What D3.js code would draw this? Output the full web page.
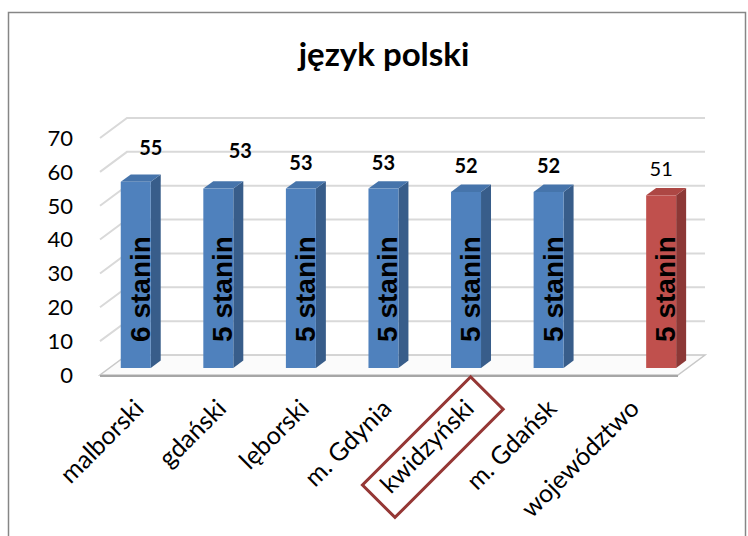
<!DOCTYPE html>
<html>
<head>
<meta charset="utf-8">
<script src="https://cdn.jsdelivr.net/npm/d3@7"></script>
<style>
  body { margin: 0; background: #fff; }
  svg { display: block; }
</style>
</head>
<body>
<div id="chart"></div>
<script>
// chart data
const categories = ["malborski", "gdański", "lęborski", "m. Gdynia", "kwidzyński", "m. Gdańsk", "województwo"];
const series = ["powiat", "województwo"];
const values = [55, 53, 53, 53, 52, 52, 51];
const seriesOf = ["powiat", "powiat", "powiat", "powiat", "powiat", "powiat", "województwo"];
const staninLabels = ["6 stanin", "5 stanin", "5 stanin", "5 stanin", "5 stanin", "5 stanin", "5 stanin"];
const yTicks = [0, 10, 20, 30, 40, 50, 60, 70];
const highlighted = "kwidzyński";

// label nudges (the first two value labels were moved by hand in the original)
const labelNudge = [[15, -8], [22, -12], [0, 0], [0, 0], [0, 0], [0, 0], [0, 0]];

const width = 748, height = 536;
const font = "Lato, 'Open Sans', sans-serif";

const svg = d3.select("#chart").append("svg")
    .attr("width", width)
    .attr("height", height);

// outer frame
svg.append("path")
    .attr("d", "M8.5,540V12.5H745.5V540")
    .attr("fill", "none")
    .attr("stroke", "#868686")
    .attr("stroke-width", 1.5);

svg.append("text")
    .attr("x", 384)
    .attr("y", 66)
    .attr("text-anchor", "middle")
    .style("font", `bold 33px ${font}`)
    .text("język polski");

// front plane geometry and depth (3d offset)
const x0 = 100, x1 = 678;
const depth = { dx: 27, dy: -20 };

const x = d3.scaleBand().domain(categories).range([x0, x1]).padding(0);
const xs = d3.scaleBand().domain(series).range([0, x.bandwidth()]).paddingInner(0).paddingOuter(0.377);
const y = d3.scaleLinear().domain([0, 70]).range([375, 138]);

const off = t => [depth.dx * t, depth.dy * t];

// floor
const [fdx, fdy] = off(1);
svg.append("path")
    .attr("d", `M${x0},${y(0)}L${x1},${y(0)}L${x1 + fdx},${y(0) + fdy}L${x0 + fdx},${y(0) + fdy}Z`)
    .attr("fill", "#fbfbfb")
    .attr("stroke", "#c8c8c8")
    .attr("stroke-width", 1.5);
svg.append("line")
    .attr("x1", x0).attr("x2", x1)
    .attr("y1", y(0) + 1).attr("y2", y(0) + 1)
    .attr("stroke", "#a6a6a6")
    .attr("stroke-width", 2);

// gridlines: left wall diagonal + back wall horizontal
const grid = svg.append("g");
grid.selectAll("path")
    .data(yTicks.slice(1))
    .join("path")
    .attr("d", d => `M${x0},${y(d)}L${x0 + fdx},${y(d) + fdy}L${x1 + fdx},${y(d) + fdy}`)
    .attr("fill", "none")
    .attr("stroke", "#d9d9d9")
    .attr("stroke-width", 2);

// y axis labels
svg.append("g")
    .selectAll("text")
    .data(yTicks)
    .join("text")
    .attr("x", 73)
    .attr("y", d => y(d))
    .attr("dy", "0.36em")
    .attr("text-anchor", "end")
    .style("font", `22px ${font}`)
    .text(d => d);

// bars
const colors = {
    powiat: { front: "#4f81bd", side: "#385d8a", top: "#4674ab" },
    "województwo": { front: "#c0504d", side: "#8c3836", top: "#ad4744" }
};
const tFront = 0.35, tBack = 0.72;
const [bfx, bfy] = off(tFront);
const [bbx, bby] = off(tBack);
const bw = xs.bandwidth();

const bars = svg.append("g")
    .selectAll("g")
    .data(categories.map((c, i) => ({ c, i, v: values[i], s: seriesOf[i] })))
    .join("g");

bars.each(function (d) {
    const g = d3.select(this);
    const left = x(d.c) + xs(d.s) + bfx;
    const right = left + bw;
    const top = y(d.v) + bfy;
    const bottom = y(0) + bfy;
    const ddx = bbx - bfx, ddy = bby - bfy;
    const col = colors[d.s];
    g.append("path")
        .attr("d", `M${right},${top}L${right + ddx},${top + ddy}L${right + ddx},${bottom + ddy}L${right},${bottom}Z`)
        .attr("fill", col.side);
    g.append("path")
        .attr("d", `M${left},${top}L${left + ddx},${top + ddy}L${right + ddx},${top + ddy}L${right},${top}Z`)
        .attr("fill", col.top);
    g.append("rect")
        .attr("x", left)
        .attr("y", top)
        .attr("width", bw)
        .attr("height", bottom - top)
        .attr("fill", col.front);

    // stanin label inside bar
    g.append("text")
        .attr("transform", `translate(${left + bw - 1},${289}) rotate(-90)`)
        .attr("text-anchor", "middle")
        .style("font", "bold 28px 'Liberation Sans', Arial, sans-serif")
        .text(staninLabels[d.i]);

    // value label
    g.append("text")
        .attr("x", left + bw / 2 + labelNudge[d.i][0])
        .attr("y", top - 19 + labelNudge[d.i][1])
        .attr("text-anchor", "middle")
        .style("font", `${d.s === "powiat" ? "bold " : ""}20px ${font}`)
        .text(d.v);
});

// category labels
const cat = svg.append("g")
    .selectAll("g")
    .data(categories)
    .join("g")
    .attr("transform", d => `translate(${x(d) + x.bandwidth() / 2 + 4},${410}) rotate(-45)`);

cat.append("text")
    .attr("text-anchor", "end")
    .style("font", `25px ${font}`)
    .text(d => d);

cat.filter(d => d === highlighted)
    .append("rect")
    .attr("x", -133)
    .attr("y", -27)
    .attr("width", 153)
    .attr("height", 46)
    .attr("fill", "none")
    .attr("stroke", "#953735")
    .attr("stroke-width", 3);
</script>
</body>
</html>
